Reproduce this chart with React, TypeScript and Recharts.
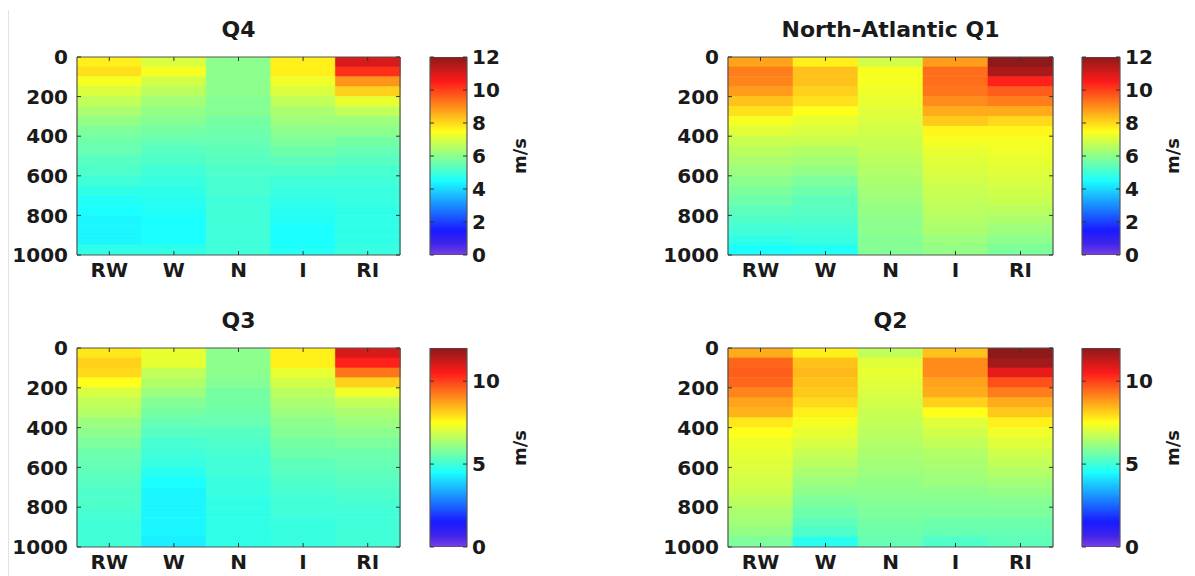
import React from 'react';
import { BarChart, Bar, XAxis, YAxis, Cell } from 'recharts';

// ---------- data ----------
const categories = ['RW', 'W', 'N', 'I', 'RI'];
const levelEdges = [0, 50, 100, 150, 200, 250, 300, 350, 400, 450, 500, 550, 600, 650, 700, 750, 800, 850, 900, 950, 1000];
const depthTicks = [0, 200, 400, 600, 800, 1000];
const colorTicksFull = [0, 2, 4, 6, 8, 10, 12];
const colorTicksSparse = [0, 5, 10];
const speedRange = [0, 12];

// Q4 (top-left), values top (0) to bottom (1000), m/s
const q4RW = [7.7, 7.9, 7.4, 7.0, 6.7, 6.4, 6.1, 5.8, 5.6, 5.5, 5.3, 5.2, 5.0, 4.8, 4.6, 4.5, 4.4, 4.4, 4.4, 4.8];
const q4W = [7.0, 7.4, 6.9, 6.6, 6.3, 6.1, 5.9, 5.7, 5.5, 5.3, 5.2, 5.0, 4.9, 4.8, 4.7, 4.6, 4.5, 4.5, 4.5, 4.8];
const q4N = [6.0, 6.0, 6.0, 6.0, 5.9, 5.9, 5.7, 5.6, 5.5, 5.4, 5.3, 5.2, 5.1, 5.1, 5.0, 5.0, 5.0, 5.0, 5.0, 5.0];
const q4I = [7.7, 7.7, 7.3, 7.0, 6.7, 6.4, 6.2, 6.0, 5.8, 5.6, 5.4, 5.2, 5.0, 4.9, 4.8, 4.7, 4.6, 4.5, 4.5, 4.6];
const q4RI = [11.0, 10.2, 8.9, 8.1, 7.2, 6.7, 6.2, 6.0, 5.7, 5.5, 5.3, 5.1, 5.0, 4.9, 4.9, 4.8, 4.8, 4.8, 4.8, 4.9];

// North-Atlantic Q1 (top-right)
const q1RW = [8.7, 9.2, 9.1, 8.8, 8.3, 7.9, 7.4, 7.1, 6.8, 6.6, 6.4, 6.2, 6.0, 5.8, 5.6, 5.4, 5.2, 5.0, 4.8, 4.5];
const q1W = [7.7, 8.3, 8.3, 8.1, 7.9, 7.5, 7.2, 7.0, 6.8, 6.5, 6.3, 6.1, 5.8, 5.6, 5.4, 5.3, 5.2, 5.0, 4.9, 4.6];
const q1N = [6.9, 7.4, 7.4, 7.3, 7.2, 7.1, 7.0, 6.9, 6.8, 6.7, 6.6, 6.5, 6.4, 6.3, 6.2, 6.1, 6.0, 6.0, 5.9, 5.9];
const q1I = [8.8, 9.4, 9.4, 9.3, 9.0, 8.6, 8.2, 7.6, 7.4, 7.2, 7.1, 7.0, 6.9, 6.8, 6.7, 6.6, 6.5, 6.4, 6.2, 6.1];
const q1RI = [12.0, 11.6, 10.4, 9.6, 9.2, 8.6, 8.0, 7.6, 7.4, 7.3, 7.2, 7.1, 7.0, 6.9, 6.8, 6.6, 6.4, 6.2, 6.0, 5.8];

// Q3 (bottom-left)
const q3RW = [7.8, 8.1, 8.0, 7.5, 7.0, 6.7, 6.5, 6.2, 6.0, 5.8, 5.6, 5.5, 5.4, 5.3, 5.2, 5.2, 5.1, 5.0, 5.0, 5.0];
const q3W = [7.2, 7.2, 6.7, 6.5, 6.2, 5.9, 5.7, 5.5, 5.3, 5.1, 5.0, 4.9, 4.7, 4.5, 4.4, 4.4, 4.4, 4.4, 4.4, 4.3];
const q3N = [6.0, 6.0, 6.0, 5.9, 5.7, 5.7, 5.6, 5.5, 5.3, 5.2, 5.1, 5.0, 5.0, 4.9, 4.9, 4.8, 4.8, 4.8, 4.8, 4.8];
const q3I = [7.7, 7.7, 7.2, 6.9, 6.6, 6.4, 6.2, 6.0, 5.9, 5.7, 5.6, 5.4, 5.3, 5.2, 5.1, 5.0, 5.0, 4.9, 4.9, 4.9];
const q3RI = [11.0, 10.4, 9.3, 8.1, 7.3, 6.7, 6.4, 6.2, 6.0, 5.8, 5.6, 5.5, 5.4, 5.3, 5.2, 5.1, 5.0, 5.0, 5.0, 5.0];

// Q2 (bottom-right)
const q2RW = [8.6, 9.5, 9.6, 9.5, 9.1, 8.7, 8.5, 7.8, 7.5, 7.3, 7.2, 7.1, 7.0, 6.9, 6.8, 6.6, 6.4, 6.3, 6.1, 5.8];
const q2W = [7.7, 8.3, 8.4, 8.3, 8.2, 8.0, 7.7, 7.4, 7.2, 7.0, 6.8, 6.6, 6.4, 6.2, 6.0, 5.8, 5.6, 5.4, 5.2, 4.7];
const q2N = [6.7, 7.1, 7.2, 7.1, 7.0, 6.9, 6.8, 6.7, 6.6, 6.5, 6.4, 6.3, 6.2, 6.1, 6.0, 5.9, 5.8, 5.7, 5.6, 5.5];
const q2I = [8.3, 9.0, 9.0, 8.7, 8.6, 8.1, 7.5, 7.1, 6.9, 6.7, 6.5, 6.4, 6.3, 6.2, 6.0, 5.9, 5.8, 5.6, 5.5, 5.2];
const q2RI = [12.0, 11.7, 10.8, 9.8, 9.2, 8.6, 8.2, 7.7, 7.3, 7.1, 6.9, 6.7, 6.5, 6.3, 6.1, 5.9, 5.8, 5.6, 5.5, 5.4];

// ---------- helpers ----------
const FONT = '"DejaVu Sans", "Liberation Sans", sans-serif';
const FRAME = '#555';
const TEXT = '#1a1a1a';

const clamp01 = (v: number) => Math.max(0, Math.min(1, v));
function jet(value: number): string {
  const t = clamp01((value - speedRange[0]) / (speedRange[1] - speedRange[0]));
  const r = clamp01(Math.min(4 * t - 1.5, -4 * t + 4.5));
  const g = clamp01(Math.min(4 * t - 0.5, -4 * t + 3.5));
  const b = clamp01(Math.min(4 * t + 0.5, -4 * t + 2.5));
  const a = 0.1;
  const mix = (c: number) => Math.round(255 * (c * (1 - a) + a));
  return `rgb(${mix(r)},${mix(g)},${mix(b)})`;
}

function buildRows() {
  return categories.map((cat) => {
    const row: Record<string, any> = { cat, zero: 0 };
    for (let i = 0; i < levelEdges.length - 1; i++) {
      row[`L${i}`] = levelEdges[i + 1] - levelEdges[i];
    }
    return row;
  });
}

type PanelProps = {
  title: string;
  columns: number[][];
  x0: number;
  x1: number;
  y0: number;
  y1: number;
  cbX0: number;
  cbX1: number;
  cbTicks: number[];
  gid: string;
};

const tickStyle = { fill: TEXT, fontSize: 20, fontWeight: 'bold', fontFamily: FONT };
const noLabel = () => <g />;

function Panel({ title, columns, x0, x1, y0, y1, cbX0, cbX1, cbTicks, gid }: PanelProps) {
  const rows = buildRows();
  const yAxisW = 77;
  const pw = x1 - x0;
  const ph = y1 - y0;
  const topPad = 20;
  const chartW = yAxisW + pw + 1 + 5;
  const chartH = topPad + ph + 40;
  const cbLeftW = 10;
  const cbRightW = 73;
  const cbW = cbLeftW + (cbX1 - cbX0) + cbRightW;
  const cbH = topPad + ph + 20;
  const depthDomain = [levelEdges[0], levelEdges[levelEdges.length - 1]];

  return (
    <>
      <div
        style={{
          position: 'absolute',
          left: (x0 + x1) / 2,
          top: y0 - 27,
          transform: 'translate(-50%, -50%)',
          fontFamily: FONT,
          fontWeight: 'bold',
          fontSize: 22,
          lineHeight: 1,
          color: TEXT,
          whiteSpace: 'nowrap',
        }}
      >
        {title}
      </div>
      <div style={{ position: 'absolute', left: x0 - yAxisW, top: y0 - topPad }}>
        <BarChart
          width={chartW}
          height={chartH}
          data={rows}
          margin={{ top: topPad - 1, right: 5, bottom: 0, left: 0 }}
          barCategoryGap={0}
          barGap={0}
        >
          <XAxis
            dataKey="cat"
            type="category"
            interval={0}
            height={40}
            tickSize={-4}
            tickMargin={12}
            axisLine={{ stroke: FRAME, strokeWidth: 1.2 }}
            tickLine={{ stroke: '#333' }}
            tick={tickStyle}
          />
          <XAxis
            xAxisId="top"
            dataKey="cat"
            type="category"
            orientation="top"
            interval={0}
            height={1}
            tickSize={-4}
            tick={noLabel}
            axisLine={{ stroke: FRAME, strokeWidth: 1.2 }}
            tickLine={{ stroke: '#333' }}
          />
          <YAxis
            type="number"
            domain={depthDomain}
            allowDataOverflow
            reversed
            ticks={depthTicks}
            interval={0}
            width={yAxisW}
            tickSize={-4}
            tickMargin={13}
            axisLine={{ stroke: FRAME, strokeWidth: 1.2 }}
            tickLine={{ stroke: '#333' }}
            tick={tickStyle}
          />
          <YAxis
            yAxisId="right"
            orientation="right"
            type="number"
            domain={depthDomain}
            allowDataOverflow
            reversed
            ticks={depthTicks}
            interval={0}
            width={1}
            tickSize={-4}
            tick={noLabel}
            axisLine={{ stroke: FRAME, strokeWidth: 1.2 }}
            tickLine={{ stroke: '#333' }}
          />
          {levelEdges.slice(0, -1).map((_, i) => (
            <Bar key={i} dataKey={`L${i}`} stackId="s" isAnimationActive={false}>
              {columns.map((col, c) => (
                <Cell key={c} fill={jet(col[i])} stroke={jet(col[i])} strokeWidth={0.6} />
              ))}
            </Bar>
          ))}
          <Bar xAxisId="top" yAxisId="right" dataKey="zero" fill="none" isAnimationActive={false} />
        </BarChart>
      </div>
      <div style={{ position: 'absolute', left: cbX0 - cbLeftW, top: y0 - topPad }}>
        <BarChart
          width={cbW}
          height={cbH}
          data={[{ name: 'cb', top: speedRange[1], zero: 0 }]}
          margin={{ top: topPad, right: 0, bottom: 20, left: 0 }}
          barCategoryGap={0}
        >
          <defs>
            <linearGradient id={gid} x1="0" y1="1" x2="0" y2="0">
              <stop offset="0" stopColor="rgb(122,62,226)" />
              <stop offset="0.06" stopColor="rgb(60,36,236)" />
              <stop offset="0.125" stopColor={jet(speedRange[0] + 0.125 * 12)} />
              <stop offset="0.375" stopColor={jet(speedRange[0] + 0.375 * 12)} />
              <stop offset="0.625" stopColor={jet(speedRange[0] + 0.625 * 12)} />
              <stop offset="0.875" stopColor={jet(speedRange[0] + 0.875 * 12)} />
              <stop offset="1" stopColor={jet(speedRange[1])} />
            </linearGradient>
          </defs>
          <XAxis dataKey="name" type="category" hide height={0} />
          <XAxis xAxisId="x2" dataKey="name" type="category" hide height={0} />
          <YAxis
            type="number"
            domain={speedRange}
            allowDataOverflow
            ticks={cbTicks}
            interval={0}
            width={cbLeftW}
            tickSize={-4}
            tick={noLabel}
            axisLine={false}
            tickLine={{ stroke: '#333' }}
          />
          <YAxis
            yAxisId="r"
            orientation="right"
            type="number"
            domain={speedRange}
            allowDataOverflow
            ticks={cbTicks}
            interval={0}
            width={cbRightW}
            tickSize={-4}
            tickMargin={9}
            axisLine={false}
            tickLine={{ stroke: '#333' }}
            tick={tickStyle}
          />
          <Bar yAxisId="r" dataKey="top" fill={`url(#${gid})`} stroke={FRAME} strokeWidth={1.2} isAnimationActive={false} />
          <Bar xAxisId="x2" dataKey="zero" fill="none" isAnimationActive={false} />
        </BarChart>
      </div>
      <div
        style={{
          position: 'absolute',
          left: cbX1 + 53,
          top: (y0 + y1) / 2,
          transform: 'translate(-50%, -50%) rotate(-90deg)',
          fontFamily: FONT,
          fontWeight: 'bold',
          fontSize: 18,
          lineHeight: 1,
          color: TEXT,
          whiteSpace: 'nowrap',
        }}
      >
        m/s
      </div>
    </>
  );
}

export default function App() {
  return (
    <div
      style={{
        position: 'absolute',
        left: 0,
        top: 0,
        width: 1195,
        height: 576,
        background: '#fff',
        overflow: 'hidden',
      }}
    >
      <div style={{ position: 'absolute', left: 8, top: 10, width: 1, height: 566, background: '#e2e2e2' }} />
      <Panel title="Q4" columns={[q4RW, q4W, q4N, q4I, q4RI]} x0={77} x1={400} y0={57} y1={255} cbX0={430} cbX1={467} cbTicks={colorTicksFull} gid="jetA" />
      <Panel title="North-Atlantic Q1" columns={[q1RW, q1W, q1N, q1I, q1RI]} x0={728} x1={1053} y0={57} y1={255} cbX0={1082} cbX1={1120} cbTicks={colorTicksFull} gid="jetB" />
      <Panel title="Q3" columns={[q3RW, q3W, q3N, q3I, q3RI]} x0={77} x1={400} y0={348} y1={547} cbX0={430} cbX1={467} cbTicks={colorTicksSparse} gid="jetC" />
      <Panel title="Q2" columns={[q2RW, q2W, q2N, q2I, q2RI]} x0={728} x1={1053} y0={348} y1={547} cbX0={1082} cbX1={1120} cbTicks={colorTicksSparse} gid="jetD" />
    </div>
  );
}
